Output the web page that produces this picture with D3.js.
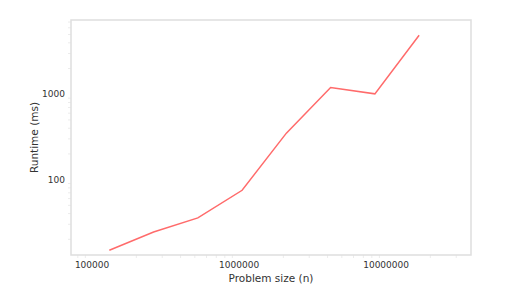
<!DOCTYPE html>
<html>
<head>
<meta charset="utf-8">
<script src="https://cdn.jsdelivr.net/npm/d3@7"></script>
<style>
  body { margin: 0; background: #fff; }
  text { font-family: "DejaVu Sans", sans-serif; fill: #333; }
</style>
</head>
<body>
<svg id="chart" width="510" height="301"></svg>
<script>
// problem sizes (2^17 .. 2^24) and runtimes
const sizes = [131072, 262144, 524288, 1048576, 2097152, 4194304, 8388608, 16777216];
const runtimes = [14.9, 24.4, 35.6, 75, 350, 1200, 1010, 4900];
const xTicks = [100000, 1000000, 10000000];
const yTicks = [100, 1000];

const svg = d3.select("#chart");
const plotL = 71, plotR = 471, plotT = 20, plotB = 255;

const x = d3.scaleLog().domain([71900, 37800000]).range([plotL, plotR]);
const y = d3.scaleLog().domain([13.1, 7400]).range([plotB, plotT]);

// minor ticks, very faint
const xMinor = [];
[10000, 100000, 1000000, 10000000].forEach(d => d3.range(2, 10).forEach(k => xMinor.push(d * k)));
const yMinor = [];
[10, 100, 1000].forEach(d => d3.range(2, 10).forEach(k => yMinor.push(d * k)));

svg.append("g")
    .selectAll("line")
    .data(xMinor.filter(d => x(d) > plotL && x(d) < plotR))
    .join("line")
    .attr("x1", d => x(d)).attr("x2", d => x(d))
    .attr("y1", plotB).attr("y2", plotB + 3)
    .attr("stroke", "#ececec");

svg.append("g")
    .selectAll("line")
    .data(yMinor.filter(d => y(d) > plotT && y(d) < plotB))
    .join("line")
    .attr("x1", plotL - 3).attr("x2", plotL)
    .attr("y1", d => y(d)).attr("y2", d => y(d))
    .attr("stroke", "#ececec");

// frame
svg.append("rect")
    .attr("x", plotL).attr("y", plotT)
    .attr("width", plotR - plotL).attr("height", plotB - plotT)
    .attr("fill", "none")
    .attr("stroke", "#dedede")
    .attr("stroke-width", 1.5);

// tick labels
svg.append("g")
    .selectAll("text")
    .data(xTicks)
    .join("text")
    .attr("x", d => x(d))
    .attr("y", 268)
    .attr("text-anchor", "middle")
    .attr("font-size", 9)
    .text(d => d);

svg.append("g")
    .selectAll("text")
    .data(yTicks)
    .join("text")
    .attr("x", 65)
    .attr("y", d => y(d) + 3)
    .attr("text-anchor", "end")
    .attr("font-size", 9)
    .text(d => d);

// axis titles
svg.append("text")
    .attr("x", (plotL + plotR) / 2)
    .attr("y", 281.5)
    .attr("text-anchor", "middle")
    .attr("font-size", 10.5)
    .text("Problem size (n)");

svg.append("text")
    .attr("transform", `translate(38,${(plotT + plotB) / 2}) rotate(-90)`)
    .attr("text-anchor", "middle")
    .attr("font-size", 10.5)
    .text("Runtime (ms)");

// runtime line
const line = d3.line()
    .x((d, i) => x(sizes[i]))
    .y(d => y(d));

svg.append("path")
    .datum(runtimes)
    .attr("d", line)
    .attr("fill", "none")
    .attr("stroke", "#ff6b6b")
    .attr("stroke-width", 1.5);
</script>
</body>
</html>
